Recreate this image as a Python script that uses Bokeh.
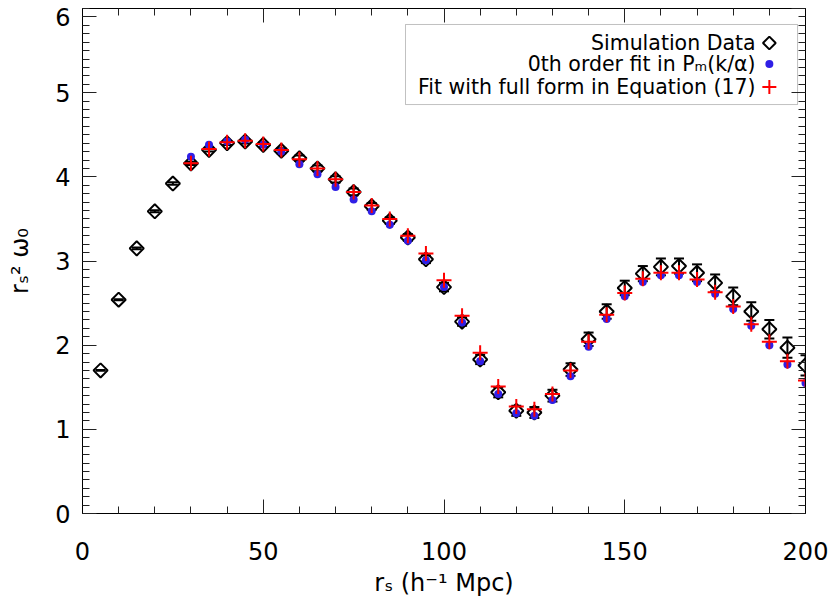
import math
from bokeh.plotting import figure
from bokeh.models import (ColumnDataSource, Whisker, TeeHead, LinearAxis, BoxAnnotation,
                          Label, Range1d, SingleIntervalTicker, FixedTicker)
from bokeh.embed import file_html
from bokeh.resources import INLINE

# ---------------- data ----------------
rs = [5, 10, 15, 20, 25, 30, 35, 40, 45, 50, 55, 60, 65, 70, 75, 80, 85, 90, 95, 100,
      105, 110, 115, 120, 125, 130, 135, 140, 145, 150, 155, 160, 165, 170, 175, 180, 185, 190, 195, 200]
sim = [1.70, 2.54, 3.15, 3.59, 3.92, 4.16, 4.32, 4.40, 4.42, 4.38, 4.31, 4.22, 4.10, 3.97, 3.82, 3.65,
       3.48, 3.28, 3.02, 2.69, 2.28, 1.83, 1.44, 1.22, 1.20, 1.40, 1.71, 2.07, 2.40, 2.68, 2.85, 2.93,
       2.94, 2.86, 2.74, 2.58, 2.40, 2.19, 1.97, 1.76]
sim_err = [0.005, 0.007, 0.01, 0.012, 0.015, 0.018, 0.02, 0.022, 0.025, 0.027, 0.03, 0.032, 0.035, 0.037,
           0.04, 0.04, 0.04, 0.04, 0.045, 0.05, 0.05, 0.055, 0.06, 0.06, 0.065, 0.07, 0.075, 0.08, 0.086,
           0.086, 0.09, 0.10, 0.09, 0.10, 0.10, 0.105, 0.11, 0.11, 0.12, 0.12]

fit_rs = [30, 35, 40, 45, 50, 55, 60, 65, 70, 75, 80, 85, 90, 95, 100, 105, 110, 115, 120, 125,
          130, 135, 140, 145, 150, 155, 160, 165, 170, 175, 180, 185, 190, 195, 200]
fit0 = [4.24, 4.38, 4.42, 4.44, 4.38, 4.30, 4.15, 4.03, 3.88, 3.73, 3.59, 3.43, 3.24, 3.01, 2.69, 2.27,
        1.81, 1.42, 1.19, 1.16, 1.35, 1.63, 1.98, 2.31, 2.58, 2.75, 2.83, 2.83, 2.75, 2.61, 2.43, 2.23,
        2.00, 1.77, 1.55]
fit_full = [4.16, 4.33, 4.41, 4.43, 4.39, 4.32, 4.21, 4.10, 3.97, 3.82, 3.66, 3.50, 3.30, 3.09, 2.77,
            2.35, 1.91, 1.51, 1.27, 1.24, 1.42, 1.70, 2.04, 2.36, 2.62, 2.79, 2.86, 2.86, 2.78, 2.63,
            2.46, 2.25, 2.04, 1.81, 1.58]

y_ticks = [0, 1, 2, 3, 4, 5, 6]
y_minor = [i / 10 for i in range(61)]
legend_labels = ["Simulation Data", "0th order fit in P\u2098(k/\u03b1)", "Fit with full form in Equation (17)"]

FONT = "DejaVu Sans"
BLUE = "#2f1fe6"
RED = "#ff0000"

# ---------------- figure ----------------
p = figure(width=830, height=603,
           min_border_left=82, min_border_right=25, min_border_top=8, min_border_bottom=90,
           x_range=Range1d(0, 200), y_range=Range1d(0, 6),
           output_backend="svg", toolbar_location=None,
           x_axis_location=None, y_axis_location=None)
p.grid.visible = False
p.outline_line_color = "black"
p.outline_line_width = 1
p.background_fill_color = "white"
p.border_fill_color = "white"


def style_axis(ax, show_labels):
    ax.axis_line_color = "black"
    ax.axis_line_width = 1
    ax.major_tick_in = 14
    ax.major_tick_out = 0
    ax.minor_tick_in = 7
    ax.minor_tick_out = 0
    ax.major_tick_line_color = "#222222"
    ax.minor_tick_line_color = "#222222"
    ax.major_label_text_font = FONT
    ax.axis_label_text_font = FONT
    ax.axis_label_text_font_style = "normal"
    ax.axis_label_text_color = "black"
    if show_labels:
        ax.major_label_text_color = "black"
        ax.major_label_text_font_size = "24px"
        ax.axis_label_text_font_size = "24px"
    else:
        # mirrored frame axis: ticks only, labels not drawn
        ax.major_label_text_color = None
        ax.major_label_text_font_size = "1px"
        ax.major_label_standoff = 0


xb = LinearAxis(ticker=SingleIntervalTicker(interval=50, num_minor_ticks=5),
                axis_label="r\u209b (h\u207b\u00b9 Mpc)")
style_axis(xb, True)
xb.major_label_standoff = 28
xb.axis_label_standoff = 6
p.add_layout(xb, "below")

# left axis: the top label ("6") sits on the frame corner; as in the original
# figure it is drawn slightly below the corner so that it stays inside the page
top_label_pos = y_ticks[-1] - 0.1
yl = LinearAxis(ticker=FixedTicker(ticks=y_ticks[:-1] + [top_label_pos], minor_ticks=y_minor),
                axis_label="r\u209b\u00b2 \u03c9\u2080",
                major_label_overrides={top_label_pos: str(y_ticks[-1])})
style_axis(yl, True)
yl.major_label_standoff = 12
yl.axis_label_standoff = 18
p.add_layout(yl, "left")

xt = LinearAxis(ticker=SingleIntervalTicker(interval=50, num_minor_ticks=5))
style_axis(xt, False)
p.add_layout(xt, "above")

yr = LinearAxis(ticker=SingleIntervalTicker(interval=1, num_minor_ticks=10))
style_axis(yr, False)
p.add_layout(yr, "right")

# ---------------- data marks ----------------
src = ColumnDataSource(data=dict(
    x=rs, y=sim,
    upper=[v + e for v, e in zip(sim, sim_err)],
    lower=[v - e for v, e in zip(sim, sim_err)],
))
fsrc = ColumnDataSource(data=dict(x=fit_rs, f0=fit0, ff=fit_full))

wh = Whisker(source=src, base="x", upper="upper", lower="lower", dimension="height",
             line_color="black", line_width=2,
             upper_head=TeeHead(size=10, line_color="black", line_width=2),
             lower_head=TeeHead(size=10, line_color="black", line_width=2))
p.add_layout(wh)

p.scatter("x", "y", source=src, marker="square", angle=math.pi / 4, size=10,
          fill_color=None, line_color="black", line_width=2)
p.scatter("x", "f0", source=fsrc, marker="circle", size=8,
          fill_color=BLUE, line_color=None)
p.scatter("x", "ff", source=fsrc, marker="cross", size=15,
          line_color=RED, line_width=2)

# ---------------- legend (text on the left, key on the right) ----------------
box = BoxAnnotation(left=89.35, right=197.8, bottom=4.859, top=5.810,
                    fill_color="white", fill_alpha=1.0,
                    line_color="#333333", line_width=1, level="underlay")
p.add_layout(box)

row_y = [5.590, 5.340, 5.067]
key_x = 190.0
text_x = 186.2
for lab, yy in zip(legend_labels, row_y):
    p.add_layout(Label(x=text_x, y=yy, text=lab, text_align="right", text_baseline="middle",
                       text_font=FONT, text_font_size="20.5px", text_color="black"))

key_src = ColumnDataSource(data=dict(x=[key_x], y0=[row_y[0]], y1=[row_y[1]], y2=[row_y[2]]))
p.scatter("x", "y0", source=key_src, marker="square", angle=math.pi / 4, size=9,
          fill_color=None, line_color="black", line_width=2)
p.scatter("x", "y1", source=key_src, marker="circle", size=8, fill_color=BLUE, line_color=None)
p.scatter("x", "y2", source=key_src, marker="cross", size=14, line_color=RED, line_width=2)

open("out.html", "w").write(file_html(p, INLINE))
